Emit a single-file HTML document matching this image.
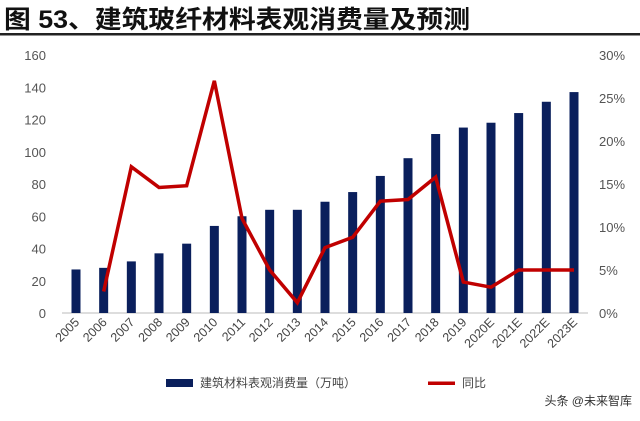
<!DOCTYPE html>
<html><head><meta charset="utf-8">
<style>
body{margin:0;background:#fff;width:640px;height:416px;overflow:hidden;font-family:"Liberation Sans","Noto Sans CJK SC",sans-serif;}
</style></head>
<body>
<svg width="640" height="416" xmlns="http://www.w3.org/2000/svg">
<text x="4" y="28" font-size="25" font-weight="bold" fill="#111" textLength="466" lengthAdjust="spacingAndGlyphs" font-family="Liberation Sans,Noto Sans CJK SC,sans-serif">图 53、建筑玻纤材料表观消费量及预测</text>
<rect x="0" y="33" width="640" height="2.5" fill="#222"/>
<g id="axes"></g>
<g id="marks"></g>
<g>
<rect x="166" y="379" width="27" height="8" fill="#0a1f5c"/>
<text x="200" y="387" font-size="12" fill="#444">建筑材料表观消费量（万吨）</text>
<rect x="428" y="381.5" width="27" height="3.5" fill="#c00000"/>
<text x="462" y="387" font-size="12" fill="#444">同比</text>
</g>
<text x="632" y="405" font-size="12" fill="#333" text-anchor="end">头条 @未来智库</text>
</svg>
<script>
const categories=["2005","2006","2007","2008","2009","2010","2011","2012","2013","2014","2015","2016","2017","2018","2019","2020E","2021E","2022E","2023E"];
const volumes=[27,28,32,37,43,54,60,64,64,69,75,85,96,111,115,118,124,131,137];
const growth=[null,2.5,17,14.6,14.8,27,11,5,1.2,7.6,8.8,13,13.2,15.8,3.6,3,5,5,5];
const leftTicks=[0,20,40,60,80,100,120,140,160];
const rightTicks=["0%","5%","10%","15%","20%","25%","30%"];
const NS="http://www.w3.org/2000/svg";
const y0=313,yTop=55;
function yL(v){return y0-(v/160)*(y0-yTop);}
function yR(p){return y0-(p/30)*(y0-yTop);}
function xC(i){return 76+i*(574-76)/(categories.length-1);}
function mk(t,a,p){const e=document.createElementNS(NS,t);for(const k in a)e.setAttribute(k,a[k]);p.appendChild(e);return e;}
const ax=document.getElementById('axes'),mg=document.getElementById('marks');
leftTicks.forEach(v=>{const t=mk('text',{x:46,y:yL(v)+5,'font-size':13,fill:'#555','text-anchor':'end'},ax);t.textContent=v;

});
rightTicks.forEach((s,i)=>{const t=mk('text',{x:599,y:yR(i*5)+5,'font-size':13,fill:'#555'},ax);t.textContent=s;

});
const base=mk('line',{x1:62,x2:588,y1:y0,y2:y0,stroke:'#bbb','stroke-width':1},ax);


categories.forEach((c,i)=>{const x=xC(i);const t=mk('text',{x:x+4,y:y0+10,'font-size':12.5,fill:'#444','text-anchor':'end',transform:`rotate(-45 ${x+4} ${y0+10})`},ax);t.textContent=c;


const b=mk('rect',{x:x-4.5,y:yL(volumes[i]),width:9,height:y0-yL(volumes[i]),fill:'#0a1f5c'},mg);

});
let d='';growth.forEach((g,i)=>{if(g==null)return;d+=(d?'L':'M')+xC(i)+' '+yR(g);});
const pl=mk('path',{d:d,fill:'none',stroke:'#c00000','stroke-width':3.5,'stroke-linejoin':'miter'},mg);


</script>
</body></html>
